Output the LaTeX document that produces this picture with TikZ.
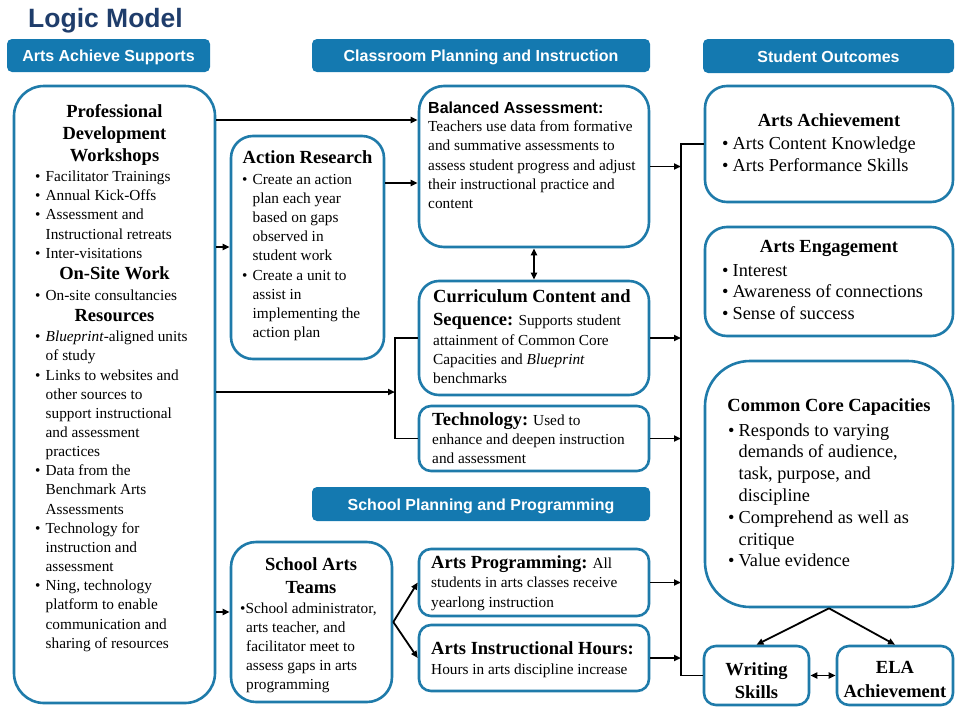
\documentclass[tikz,border=0pt]{standalone}
\usepackage{fontspec}
\setmainfont{Liberation Serif}
\newfontfamily\sansf{Liberation Sans}
\usetikzlibrary{arrows.meta,fit}
\definecolor{bd}{HTML}{1F7BAA}
\definecolor{hd}{HTML}{1479B0}
\definecolor{tt}{HTML}{1F3D6B}
\newcommand\TL[2]{\vtop{\baselineskip=#1pt\lineskiplimit=-50pt\lineskip=0pt\halign{##\hfil\cr#2\crcr}}}
\newcommand\TC[2]{\vtop{\baselineskip=#1pt\lineskiplimit=-50pt\lineskip=0pt\halign{\hfil##\hfil\cr#2\crcr}}}
\newcommand\bu{\hbox to 10.5pt{\textbullet\hss}}
\newcommand\ii{\kern10.5pt}
\newcommand\hb[1]{{\fontsize{18.5}{22}\selectfont\bfseries #1}}
\tikzset{
 box/.style={draw=bd, line width=2.6pt, fill=white, inner sep=0pt},
 hdr/.style={fill=hd, rounded corners=5pt, inner sep=0pt},
 hdrt/.style={inner sep=0pt, anchor=base, yshift=-6pt, text=white, font=\sansf\bfseries\fontsize{16}{19}\selectfont},
 tx/.style={inner sep=0pt, anchor=base west},
 txc/.style={inner sep=0pt, anchor=base},
 fm/.style={font=\fontsize{15.3}{19.2}\selectfont},
 fr/.style={font=\fontsize{18.3}{22}\selectfont},
 fb/.style={font=\fontsize{18.5}{22.5}\selectfont\bfseries},
 ln/.style={line width=1.8pt},
 arr/.style={ln, -{Triangle[length=7pt,width=6pt]}},
 darr/.style={ln, {Triangle[length=7pt,width=6pt]}-{Triangle[length=7pt,width=6pt]}},
}
\begin{document}
\begin{tikzpicture}[x=1pt,y=-1pt]
\useasboundingbox (0,0) rectangle (960,720);
\fill[white] (0,0) rectangle (960,720);

% title and headers
\node[anchor=base west, inner sep=0pt, text=tt, font=\sansf\bfseries\fontsize{26.5}{30}\selectfont] (title) at (28,27.5) {Logic Model};
\node[hdr, fit={(7,39) (210,72)}] (h1) {};
\node[hdrt] (h1t) at (h1.center) {Arts Achieve Supports};
\node[hdr, fit={(312,39) (650,72)}] (h2) {};
\node[hdrt] (h2t) at (h2.center) {Classroom Planning and Instruction};
\node[hdr, fit={(703,39) (954,73)}] (h3) {};
\node[hdrt] (h3t) at (h3.center) {Student Outcomes};
\node[hdr, fit={(312,487) (650,521)}] (h4) {};
\node[hdrt] (h4t) at (h4.center) {School Planning and Programming};

% boxes
\node[box, rounded corners=30pt, fit={(14,86) (215,703)}] (pd) {};
\node[box, rounded corners=22pt, fit={(231,136) (384,359)}] (ar) {};
\node[box, rounded corners=25pt, fit={(419,86) (649,247)}] (ba) {};
\node[box, rounded corners=20pt, fit={(419,281) (649,395)}] (cur) {};
\node[box, rounded corners=12pt, fit={(419,406) (649,471)}] (tech) {};
\node[box, rounded corners=25pt, fit={(231,542) (392,702)}] (sat) {};
\node[box, rounded corners=12pt, fit={(419,549) (649,616)}] (ap) {};
\node[box, rounded corners=12pt, fit={(419,625) (649,691)}] (aih) {};
\node[box, rounded corners=22pt, fit={(705,86) (953,202)}] (aa) {};
\node[box, rounded corners=22pt, fit={(705,227) (953,336)}] (ae) {};
\node[box, rounded corners=45pt, fit={(705,361) (953,607)}] (ccc) {};
\node[box, rounded corners=12pt, fit={(704,646) (809,705)}] (ws) {};
\node[box, rounded corners=12pt, fit={(837,646) (953,705)}] (ela) {};

% PD texts
\node[txc, fb] (pdh1) at (114.5,117.3) {\TC{22.3}{Professional\cr Development\cr Workshops}};
\node[tx, fm] (pdb1) at (35,181.5) {\TL{19.2}{\bu Facilitator Trainings\cr \bu Annual Kick-Offs\cr \bu Assessment and\cr \ii Instructional retreats\cr \bu Inter-visitations}};
\node[txc, fb] (pdh2) at (114.5,279.3) {On-Site Work};
\node[tx, fm] (pdb2) at (35,300) {\bu On-site consultancies};
\node[txc, fb] (pdh3) at (114.5,321.7) {Resources};
\node[tx, fm] (pdb3) at (35,341.7) {\TL{19.16}{\bu \textit{Blueprint}-aligned units\cr \ii of study\cr \bu Links to websites and\cr \ii other sources to\cr \ii support instructional\cr \ii and assessment\cr \ii practices\cr \bu Data from the\cr \ii Benchmark Arts\cr \ii Assessments\cr \bu Technology for\cr \ii instruction and\cr \ii assessment\cr \bu Ning, technology\cr \ii platform to enable\cr \ii communication and\cr \ii sharing of resources}};

% Action research
\node[txc, fb] (arh) at (307.5,163.3) {Action Research};
\node[tx, fm] (arb) at (242,184) {\TL{19.2}{\bu Create an action\cr \ii plan each year\cr \ii based on gaps\cr \ii observed in\cr \ii student work\cr \bu Create a unit to\cr \ii assist in\cr \ii implementing the\cr \ii action plan}};

% Balanced assessment
\node[tx, font=\sansf\bfseries\fontsize{16}{19}\selectfont] (bah) at (428,113.3) {Balanced Assessment:};
\node[tx, fm] (bab) at (428,131.7) {\TL{19.15}{Teachers use data from formative\cr and summative assessments to\cr assess student progress and adjust\cr their instructional practice and\cr content}};

% Curriculum
\node[tx, fb] (curh) at (433,302.7) {\TL{22.3}{Curriculum Content and\cr Sequence:\kern-1pt{} {\mdseries\fontsize{15.3}{19.2}\selectfont Supports student}}};
\node[tx, fm] (curb) at (433,345) {\TL{19.2}{attainment of Common Core\cr Capacities and \textit{Blueprint}\cr benchmarks}};

% Technology
\node[tx, fm] (techt) at (432,425) {\TL{19}{\hb{Technology:} Used to\cr enhance and deepen instruction\cr and assessment}};

% School arts teams
\node[txc, fb] (sath) at (311,570.7) {\TC{22.6}{School Arts\cr Teams}};
\node[tx, fm] (satb) at (240,613.3) {\TL{19}{\textbullet School administrator,\cr \kern6pt arts teacher, and\cr \kern6pt facilitator meet to\cr \kern6pt assess gaps in arts\cr \kern6pt programming}};

% Arts programming / hours
\node[tx, fm] (apt) at (431,568.3) {\TL{19.4}{\hb{Arts Programming:} All\cr students in arts classes receive\cr yearlong instruction}};
\node[tx, fm] (aiht) at (431,654) {\TL{20}{\hb{Arts Instructional Hours:}\cr Hours in arts discipline increase}};

% Right column
\node[txc, fb] (aah) at (829,126.7) {Arts Achievement};
\node[tx, fr] (aab) at (722,149.3) {\TL{22.4}{\bu Arts Content Knowledge\cr \bu Arts Performance Skills}};
\node[txc, fb] (aeh) at (829,252.7) {Arts Engagement};
\node[tx, fr] (aeb) at (722,276) {\TL{21.7}{\bu Interest\cr \bu Awareness of connections\cr \bu Sense of success}};
\node[txc, fb] (ccch) at (829,411) {Common Core Capacities};
\node[tx, fr] (cccb) at (728,436) {\TL{21.8}{\bu Responds to varying\cr \ii demands of audience,\cr \ii task, purpose, and\cr \ii discipline\cr \bu Comprehend as well as\cr \ii critique\cr \bu Value evidence}};
\node[txc, fb] (wst) at (756.5,675) {\TC{23.3}{Writing\cr Skills}};
\node[txc, fb] (elat) at (895,673.3) {\TC{24}{ELA\cr Achievement}};

% connectors
\coordinate (brk) at (395,392);
\coordinate (bt) at (681,144);
\coordinate (bb) at (681,675.5);
\draw[arr] (pd.east |- 0,120) -- (ba.west |- 0,120);
\draw[arr] (pd.east |- 0,247) -- (ar.west |- 0,247);
\draw[arr] (ar.east |- 0,183) -- (ba.west |- 0,183);
\draw[darr] (ba.south) -- (cur.north);
\draw[arr] (pd.east |- brk) -- (brk);
\draw[ln] (cur.west) -| (brk) |- (tech.west);
\draw[arr] (pd.east |- 0,612) -- (sat.west |- 0,612);
\draw[arr] (sat.east) -- (ap.west);
\draw[arr] (sat.east) -- (aih.west);
\draw[ln] (aa.west) -- (bt) -- (bb) -- (ws.west);
\draw[arr] (ba.east) -- (ba.east -| bt);
\draw[arr] (cur.east) -- (cur.east -| bt);
\draw[arr] (tech.east) -- (tech.east -| bt);
\draw[arr] (ap.east) -- (ap.east -| bt);
\draw[arr] (aih.east) -- (aih.east -| bt);
\draw[arr] (ccc.south) -- (ws.north);
\draw[arr] (ccc.south) -- (ela.north);
\draw[darr] (ws.east) -- (ela.west);
\end{tikzpicture}
\end{document}
